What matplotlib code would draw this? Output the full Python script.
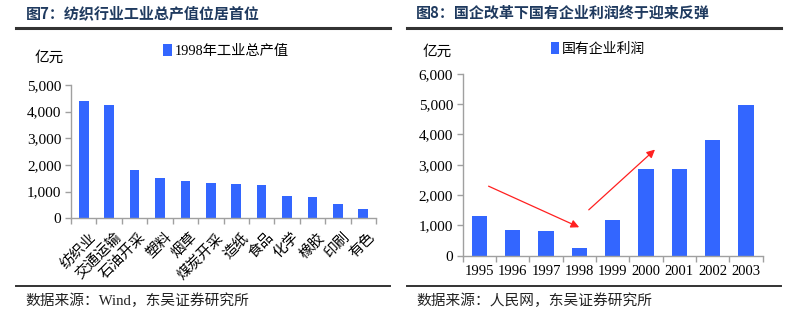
import matplotlib
matplotlib.use("Agg")
import matplotlib.pyplot as plt
from matplotlib.lines import Line2D
from matplotlib.ticker import FuncFormatter
from matplotlib.transforms import ScaledTranslation

# ---- data ----
industries = ["纺织业", "交通运输", "石油开采", "塑料", "烟草", "煤炭开采",
              "造纸", "食品", "化学", "橡胶", "印刷", "有色"]
output_1998 = [4400, 4250, 1820, 1520, 1400, 1320, 1270, 1240, 850, 790, 550, 360]

years = ["1995", "1996", "1997", "1998", "1999", "2000", "2001", "2002", "2003"]
soe_profit = [1300, 850, 820, 250, 1180, 2860, 2850, 3810, 4980]

left_title = "图7：纺织行业工业总产值位居首位"
right_title = "图8：国企改革下国有企业利润终于迎来反弹"
left_source = "数据来源：Wind，东吴证券研究所"
right_source = "数据来源：人民网，东吴证券研究所"
left_legend = "1998年工业总产值"
right_legend = "国有企业利润"
unit = "亿元"

SERIF = ["Liberation Serif", "Noto Sans CJK SC", "DejaVu Sans"]
SANS = ["Noto Sans CJK SC", "DejaVu Sans"]
BAR = "#3366FF"
AX = "#A0A0A0"
TITLE_C = "#1F3A5F"

W, H = 794, 323
fig = plt.figure(figsize=(W / 100, H / 100), dpi=100)


def fx(px):
    return px / W


def fy(py):
    return 1 - py / H


fmt = FuncFormatter(lambda v, p: f"{int(v):,}")


def style_axes(ax):
    for s in ["top", "right"]:
        ax.spines[s].set_visible(False)
    for s in ["left", "bottom"]:
        ax.spines[s].set_color(AX)
        ax.spines[s].set_linewidth(1.0)
    ax.tick_params(axis="y", colors=AX, length=4, width=1, labelcolor="black", pad=3)
    ax.tick_params(axis="x", which="major", length=0, labelcolor="black")
    ax.tick_params(axis="x", which="minor", colors=AX, length=4, width=1)
    ax.yaxis.set_major_formatter(fmt)
    for lab in ax.get_yticklabels():
        lab.set_family(SERIF)
        lab.set_fontsize(11)


# ---- left chart ----
axL = fig.add_axes([fx(71), fy(218.3), fx(376) - fx(71), fy(85) - fy(218.3)])
xL = list(range(len(industries)))
axL.bar(xL, output_1998, width=0.38, color=BAR, label=left_legend)
axL.set_xlim(-0.5, len(industries) - 0.5)
axL.set_ylim(0, 5000)
axL.set_yticks([0, 1000, 2000, 3000, 4000, 5000])
axL.set_xticks(xL)
axL.set_xticks([i - 0.5 for i in range(len(industries) + 1)], minor=True)
axL.set_xticklabels(industries, rotation=45, ha="right", va="top",
                    rotation_mode="anchor", fontsize=10.5, family=SERIF)
style_axes(axL)
axL.tick_params(axis="x", which="major", pad=8)
shift = ScaledTranslation(5 / 100, -1 / 100, fig.dpi_scale_trans)
for lab in axL.get_xticklabels():
    lab.set_transform(lab.get_transform() + shift)
axL.legend(loc="upper left", bbox_to_anchor=(fx(163), fy(44)), bbox_transform=fig.transFigure,
           frameon=False, prop={"family": SERIF, "size": 10.3}, handlelength=0.6,
           handleheight=0.9, handletextpad=0.2, borderaxespad=0, borderpad=0)

# ---- right chart ----
axR = fig.add_axes([fx(462.7), fy(255.7), fx(762.7) - fx(462.7), fy(73.7) - fy(255.7)])
xR = list(range(len(years)))
axR.bar(xR, soe_profit, width=0.46, color=BAR, label=right_legend)
axR.set_xlim(-0.5, len(years) - 0.5)
axR.set_ylim(0, 6000)
axR.set_yticks([0, 1000, 2000, 3000, 4000, 5000, 6000])
axR.set_xticks(xR)
axR.set_xticks([i - 0.5 for i in range(len(years) + 1)], minor=True)
axR.set_xticklabels(years, fontsize=10.5, family=SERIF)
style_axes(axR)
axR.tick_params(axis="x", which="major", pad=7)
axR.legend(loc="upper left", bbox_to_anchor=(fx(551), fy(42)), bbox_transform=fig.transFigure,
           frameon=False, prop={"family": SERIF, "size": 10}, handlelength=0.6,
           handleheight=0.9, handletextpad=0.2, borderaxespad=0, borderpad=0)

# trend arrows
arrow = dict(arrowstyle="-|>", color="#FF2020", lw=0.9, mutation_scale=12)
axR.annotate("", xy=(3.07, 900), xytext=(0.2, 2330), arrowprops=arrow)
axR.annotate("", xy=(5.33, 3560), xytext=(3.22, 1450), arrowprops=arrow)

# ---- titles, rules, units, sources ----
fig.text(fx(26), fy(13), left_title, family=SANS, fontsize=10.8, fontweight="bold",
         color=TITLE_C, va="center", ha="left")
fig.text(fx(416), fy(13), right_title, family=SANS, fontsize=10.8, fontweight="bold",
         color=TITLE_C, va="center", ha="left")
for x0, x1 in [(16, 390), (407, 781)]:
    fig.add_artist(Line2D([fx(x0), fx(x1)], [fy(28), fy(28)], color="#333333", lw=2.2))
    fig.add_artist(Line2D([fx(x0), fx(x1)], [fy(285.5), fy(285.5)], color="#333333", lw=1.4))

fig.text(fx(35), fy(58), unit, family=SERIF, fontsize=10.5, va="center", ha="left")
fig.text(fx(423), fy(52), unit, family=SERIF, fontsize=10.5, va="center", ha="left")

fig.text(fx(25), fy(301), left_source, family=SERIF, fontsize=10.6, va="center", ha="left",
         color="#222222")
fig.text(fx(416), fy(301), right_source, family=SERIF, fontsize=10.6, va="center", ha="left",
         color="#222222")

fig.savefig("out.png", dpi=100)
